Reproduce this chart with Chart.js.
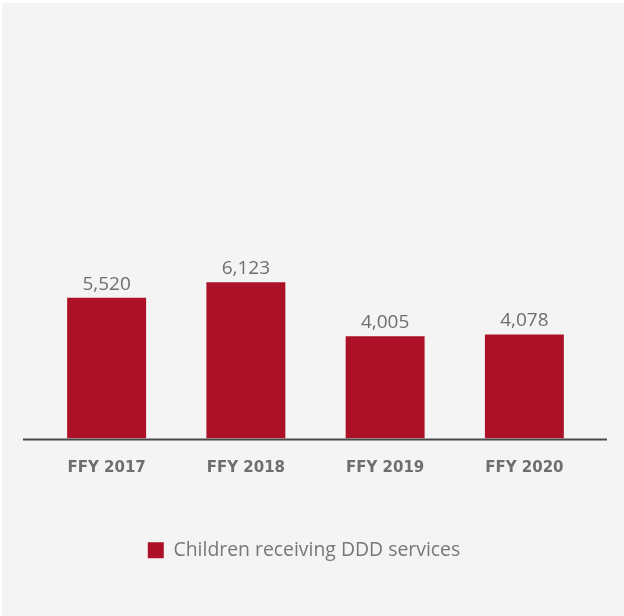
<!DOCTYPE html>
<html>
<head>
<meta charset="utf-8">
<script src="https://cdn.jsdelivr.net/npm/chart.js@4"></script>
<style>
html,body{margin:0;padding:0;background:#fff;}
canvas{display:block;}
</style>
</head>
<body>
<canvas id="c" width="624" height="616"></canvas>
<script>
const categories = ["FFY 2017", "FFY 2018", "FFY 2019", "FFY 2020"];
const seriesName = "Children receiving DDD services";
const seriesValues = [5520, 6123, 4005, 4078];

const BAR_COLOR = "#ad1128";
const TEXT_GRAY = "#6e6e6e";

const bgPlugin = {
  id: "bg",
  beforeDraw(chart) {
    const ctx = chart.ctx;
    ctx.save();
    ctx.fillStyle = "#ffffff";
    ctx.fillRect(0, 0, chart.width, chart.height);
    ctx.fillStyle = "#f4f4f4";
    ctx.fillRect(2, 3, chart.width - 2, chart.height - 3);
    ctx.restore();
  }
};

const axisLinePlugin = {
  id: "axisLine",
  afterDatasetsDraw(chart) {
    const ctx = chart.ctx;
    const y = chart.scales.y.getPixelForValue(0);
    ctx.save();
    ctx.strokeStyle = "#4a4a4a";
    ctx.lineWidth = 2;
    ctx.beginPath();
    ctx.moveTo(23, y + 1);
    ctx.lineTo(607, y + 1);
    ctx.stroke();
    ctx.restore();
  }
};

const labelPlugin = {
  id: "valueLabels",
  afterDatasetsDraw(chart) {
    const ctx = chart.ctx;
    const meta = chart.getDatasetMeta(0);
    ctx.save();
    ctx.font = "19px 'Open Sans'";
    ctx.fillStyle = TEXT_GRAY;
    ctx.textAlign = "center";
    ctx.textBaseline = "alphabetic";
    meta.data.forEach((bar, i) => {
      const v = chart.data.datasets[0].data[i];
      ctx.fillText(v.toLocaleString("en-US"), bar.x, bar.y - 8);
    });
    ctx.restore();
  }
};

new Chart(document.getElementById("c"), {
  type: "bar",
  data: {
    labels: categories,
    datasets: [{
      label: seriesName,
      data: seriesValues,
      backgroundColor: BAR_COLOR,
      borderWidth: 0,
      categoryPercentage: 1,
      barPercentage: 0.567
    }]
  },
  options: {
    responsive: false,
    devicePixelRatio: 1,
    animation: false,
    layout: { padding: { left: 14, right: 30, top: 30, bottom: 46 } },
    scales: {
      x: {
        grid: { display: false, drawTicks: false },
        border: { display: false },
        ticks: {
          color: TEXT_GRAY,
          font: { family: "'DejaVu Sans'", size: 15, weight: "bold" },
          padding: 21
        }
      },
      y: {
        display: true,
        min: 0,
        max: 16000,
        grid: { display: false, drawTicks: false },
        border: { display: false },
        ticks: { display: false },
        afterFit(scale) { scale.width = 23; }
      }
    },
    plugins: {
      legend: {
        position: "bottom",
        align: "center",
        labels: {
          color: "#777777",
          font: { family: "'Open Sans'", size: 19.4 },
          boxWidth: 16,
          boxHeight: 16,
          padding: 42
        }
      },
      tooltip: { enabled: false }
    }
  },
  plugins: [bgPlugin, axisLinePlugin, labelPlugin]
});
</script>
</body>
</html>
